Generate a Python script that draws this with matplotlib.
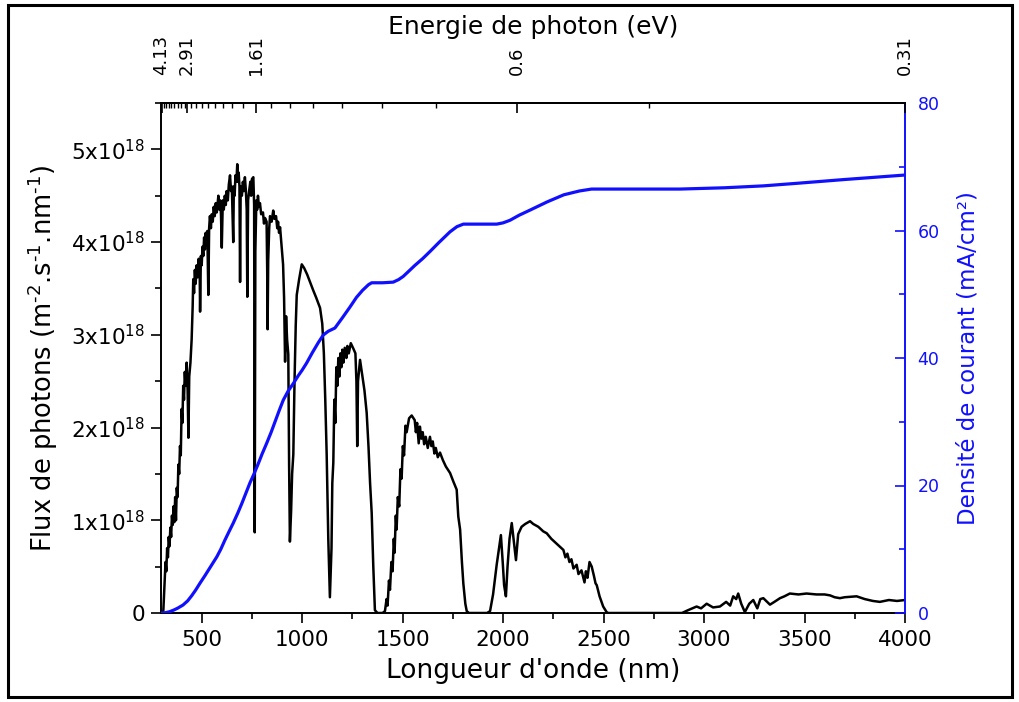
import numpy as np
import matplotlib
matplotlib.use("Agg")
import matplotlib.pyplot as plt
from matplotlib.patches import Rectangle
from matplotlib.ticker import FixedLocator, FixedFormatter, MultipleLocator

plt.rcParams['font.family'] = ['DejaVu Sans']
plt.rcParams['mathtext.fontset'] = 'dejavusans'

# photon flux spectrum, per band (x1e18 m-2 s-1 nm-1)
vis_wl = [300, 309, 316, 320, 324, 328, 332, 336, 340, 344, 348, 352, 356, 360, 364, 368, 372, 376,
          380, 384, 388, 392, 396, 400, 404, 408, 412, 416, 420, 425, 430, 434, 438, 444, 450, 455,
          458, 462, 466, 470, 475, 480, 485, 490, 492, 496, 500, 504, 508, 512, 516, 520, 524, 528,
          533, 537, 541, 546, 550, 555, 560, 565, 570, 575, 583, 588, 592, 596, 600, 605, 610, 615,
          620, 624, 630, 635, 641, 646, 650, 657, 660, 664, 668, 673, 677, 681, 684, 688, 691, 694,
          700, 705, 710, 715, 720, 724, 727, 731, 736, 742, 746, 750, 757, 761, 764, 767, 772, 776,
          780, 785, 790, 796, 805, 810, 815, 823, 826, 828, 831, 836, 840, 848, 856, 862, 870, 876,
          880, 885, 890, 898, 905, 910, 915, 920, 925, 931, 935, 939, 945, 950, 956, 962, 968, 973,
          985, 998]
vis_flux = [0.0, 0.02, 0.35, 0.55, 0.45, 0.70, 0.60, 0.82, 0.72, 0.92, 0.82, 1.05, 0.95, 1.15, 0.98,
            1.25, 1.00, 1.35, 1.25, 1.60, 1.50, 1.80, 1.70, 2.20, 2.05, 2.45, 2.30, 2.60, 2.45, 2.70,
            2.40, 1.89, 2.55, 2.70, 2.95, 3.30, 3.60, 3.45, 3.70, 3.55, 3.75, 3.62, 3.82, 3.70, 3.25,
            3.85, 3.75, 3.95, 3.85, 4.05, 3.92, 4.10, 3.98, 4.12, 3.43, 4.15, 4.28, 4.15, 4.30, 4.22,
            4.38, 4.28, 4.42, 4.32, 4.50, 4.35, 4.45, 4.30, 3.94, 4.45, 4.35, 4.50, 4.40, 4.55, 4.45,
            4.62, 4.72, 4.55, 4.60, 4.00, 4.60, 4.50, 4.72, 4.65, 4.84, 4.65, 4.75, 4.60, 3.57, 4.60,
            4.50, 4.65, 4.55, 4.70, 4.55, 4.35, 3.41, 4.45, 4.55, 4.65, 4.50, 4.68, 4.70, 4.40, 0.87,
            3.90, 4.45, 4.35, 4.50, 4.38, 4.42, 4.30, 4.32, 4.20, 4.26, 4.22, 3.70, 3.06, 3.80, 4.15,
            4.28, 4.22, 4.34, 4.25, 4.28, 4.15, 4.22, 4.10, 4.16, 3.95, 3.76, 3.40, 2.71, 3.20, 2.95,
            2.79, 1.60, 0.77, 1.10, 1.50, 1.71, 2.50, 3.10, 3.43, 3.60, 3.76]

nir1_wl = [1010, 1025, 1039, 1055, 1070, 1089, 1100, 1108, 1115, 1122, 1130, 1138, 1146, 1150, 1155,
           1160, 1165, 1170, 1175, 1180, 1185, 1190, 1195, 1200, 1205, 1212, 1220, 1225, 1232, 1242,
           1255, 1265, 1270, 1274, 1278, 1288, 1300, 1310, 1321, 1330, 1338, 1346, 1354, 1362, 1375,
           1400]
nir1_flux = [3.72, 3.65, 3.57, 3.48, 3.40, 3.29, 3.12, 2.80, 2.30, 1.71, 0.80, 0.17, 0.70, 1.40, 1.62,
             2.30, 2.05, 2.65, 2.45, 2.75, 2.55, 2.80, 2.65, 2.84, 2.70, 2.86, 2.75, 2.88, 2.80, 2.91,
             2.85, 2.80, 2.50, 1.80, 2.50, 2.73, 2.55, 2.40, 2.16, 1.80, 1.40, 1.08, 0.50, 0.03, 0.0,
             0.0]

nir2_wl = [1412, 1420, 1425, 1432, 1437, 1444, 1450, 1456, 1460, 1466, 1470, 1476, 1483, 1489, 1495,
           1501, 1507, 1514, 1520, 1532, 1545, 1560, 1566, 1572, 1580, 1586, 1593, 1600, 1607, 1615,
           1625, 1636, 1643, 1650, 1658, 1665, 1675, 1686, 1700, 1715, 1736, 1752, 1769, 1777, 1786,
           1795, 1802, 1812, 1819, 1830, 1920]
nir2_flux = [0.02, 0.15, 0.08, 0.35, 0.25, 0.55, 0.45, 0.80, 0.65, 1.05, 0.90, 1.25, 1.15, 1.55, 1.45,
             1.80, 1.70, 2.02, 1.95, 2.10, 2.13, 2.08, 1.95, 2.05, 1.83, 2.01, 1.88, 1.95, 1.82, 1.90,
             1.78, 1.90, 1.80, 1.85, 1.72, 1.78, 1.68, 1.73, 1.65, 1.58, 1.51, 1.42, 1.33, 1.04, 0.90,
             0.55, 0.32, 0.10, 0.02, 0.0, 0.0]

ir_wl = [1935, 1950, 1968, 1980, 1989, 1998, 2005, 2014, 2022, 2032, 2043, 2052, 2064, 2075, 2092,
         2110, 2134, 2150, 2175, 2200, 2217, 2240, 2260, 2280, 2300, 2310, 2320, 2330, 2340, 2350,
         2366, 2375, 2390, 2405, 2412, 2420, 2430, 2441, 2452, 2460, 2466, 2480, 2498, 2515, 2523,
         2890]
ir_flux = [0.02, 0.20, 0.52, 0.70, 0.84, 0.55, 0.30, 0.18, 0.50, 0.80, 0.97, 0.80, 0.57, 0.85, 0.93,
           0.96, 0.99, 0.96, 0.93, 0.88, 0.86, 0.80, 0.76, 0.72, 0.68, 0.60, 0.64, 0.55, 0.58, 0.48,
           0.52, 0.42, 0.46, 0.33, 0.45, 0.38, 0.55, 0.50, 0.40, 0.32, 0.30, 0.18, 0.07, 0.01, 0.0,
           0.0]

mir_wl = [2920, 2963, 2985, 3013, 3045, 3079, 3110, 3130, 3145, 3160, 3170, 3185, 3203, 3225, 3245,
          3265, 3280, 3295, 3328, 3350, 3378, 3400, 3427, 3470, 3510, 3560, 3600, 3627, 3650, 3676,
          3700, 3759, 3800, 3840, 3875, 3920, 3960, 4000]
mir_flux = [0.03, 0.07, 0.05, 0.10, 0.06, 0.07, 0.12, 0.08, 0.18, 0.15, 0.21, 0.10, 0.01, 0.10, 0.14,
            0.05, 0.15, 0.16, 0.09, 0.12, 0.16, 0.18, 0.21, 0.20, 0.21, 0.20, 0.20, 0.19, 0.17, 0.16,
            0.17, 0.18, 0.15, 0.13, 0.12, 0.14, 0.13, 0.14]

# cumulated current density (mA/cm2)
wl_j = [300, 320, 340, 360, 380, 407, 430, 450, 470, 492, 515, 535, 555, 575, 595, 615, 635, 657,
        680, 700, 720, 740, 760, 780, 800, 823, 845, 865, 885, 906, 930, 956, 980, 1000, 1022, 1050,
        1080, 1105, 1130, 1163, 1200, 1238, 1270, 1300, 1330, 1346, 1400, 1453, 1480, 1503, 1530,
        1560, 1600, 1636, 1680, 1736, 1770, 1802, 1900, 1968, 2000, 2034, 2080, 2134, 2220, 2302,
        2380, 2440, 2500, 2880, 3100, 3295, 3461, 3700, 4000]
jsc = [0.0, 0.05, 0.2, 0.45, 0.75, 1.25, 1.9, 2.7, 3.6, 4.7, 5.8, 6.8, 7.8, 8.8, 10.0, 11.4, 12.7,
       14.1, 15.7, 17.2, 18.8, 20.4, 21.8, 23.3, 24.9, 26.6, 28.3, 30.0, 31.7, 33.4, 34.8, 36.0, 37.2,
       38.1, 39.2, 40.8, 42.4, 43.6, 44.2, 44.7, 46.3, 48.0, 49.5, 50.6, 51.5, 51.8, 51.8, 51.9, 52.3,
       52.8, 53.6, 54.5, 55.6, 56.7, 58.1, 59.8, 60.6, 61.0, 61.0, 61.0, 61.2, 61.6, 62.4, 63.2, 64.5,
       65.6, 66.2, 66.5, 66.5, 66.5, 66.7, 67.0, 67.4, 68.0, 68.7]

# top axis (photon energy)
e_major = [4.13, 2.91, 1.61, 0.6, 0.31]
e_major_lbl = ['4.13', '2.91', '1.61', '0.6', '0.31']
e_minor = [3.986, 3.841, 3.697, 3.553, 3.409, 3.264, 3.120, 2.976,
           2.766, 2.621, 2.477, 2.332, 2.188, 2.043, 1.899, 1.754,
           1.466, 1.321, 1.177, 1.033, 0.889, 0.744, 0.455]

y_ticks = [0, 1e18, 2e18, 3e18, 4e18, 5e18]
y_lbls = ['0', r'1x10$^{18}$', r'2x10$^{18}$', r'3x10$^{18}$', r'4x10$^{18}$', r'5x10$^{18}$']

blue = '#1010ff'

wl = vis_wl + nir1_wl + nir2_wl + ir_wl + mir_wl
flux = np.array(vis_flux + nir1_flux + nir2_flux + ir_flux + mir_flux) * 1e18

fig = plt.figure(figsize=(10.2, 7.02), dpi=100)
ax = fig.add_axes([161.5 / 1020, 1 - 613 / 702, (905 - 161.5) / 1020, (613 - 103) / 702])

ax.plot(wl, flux, color='black', lw=1.8)
ax.set_xlim(300, 4000)
ax.set_ylim(0, 5.5e18)
ax.xaxis.set_major_locator(MultipleLocator(500))
ax.xaxis.set_minor_locator(MultipleLocator(250))
ax.yaxis.set_major_locator(FixedLocator(y_ticks))
ax.yaxis.set_major_formatter(FixedFormatter(y_lbls))
ax.yaxis.set_minor_locator(MultipleLocator(0.5e18))
ax.tick_params(which='major', direction='out', length=7, width=1.2, labelsize=15.5, pad=5)
ax.tick_params(which='minor', direction='out', length=4.5, width=1.2)
ax.tick_params(top=False, right=False, which='both')
ax.set_xlabel("Longueur d'onde (nm)", fontsize=19, labelpad=6)
ax.set_ylabel('Flux de photons (m$^{\u20102}$.s$^{\u20101}$.nm$^{\u20101}$)', fontsize=18.5, labelpad=8)
ax.spines['right'].set_visible(False)
for s in ['left', 'bottom', 'top']:
    ax.spines[s].set_linewidth(1.4)

ax2 = ax.twinx()
ax2.plot(wl_j, jsc, color=blue, lw=2.3)
ax2.set_ylim(0, 80)
ax2.yaxis.set_major_locator(MultipleLocator(20))
ax2.yaxis.set_minor_locator(MultipleLocator(10))
ax2.tick_params(axis='y', which='major', direction='in', length=7, width=1.2, colors=blue,
                labelsize=12.5, pad=9)
ax2.tick_params(axis='y', which='minor', direction='in', length=4.5, width=1.2, colors=blue)
ax2.set_ylabel('Densité de courant (mA/cm²)', fontsize=16.5, color=blue, labelpad=12)
ax2.spines['right'].set_color(blue)
ax2.spines['right'].set_linewidth(1.4)
for s in ['left', 'bottom', 'top']:
    ax2.spines[s].set_visible(False)

ax3 = ax.twiny()
ax3.set_xlim(300, 4000)
ax3.xaxis.set_major_locator(FixedLocator([1240 / e for e in e_major]))
ax3.xaxis.set_major_formatter(FixedFormatter(e_major_lbl))
ax3.xaxis.set_minor_locator(FixedLocator([1240 / e for e in e_minor]))
ax3.tick_params(axis='x', which='major', direction='in', length=7, width=1.2,
                labelsize=13, labelrotation=90, pad=20)
ax3.tick_params(axis='x', which='minor', direction='in', length=3.5, width=1.0)
ax3.set_xlabel('Energie de photon (eV)', fontsize=18, labelpad=1)
ax3.spines['right'].set_visible(False)
ax3.spines['left'].set_visible(False)
ax3.spines['bottom'].set_visible(False)
ax3.spines['top'].set_linewidth(1.4)

fig.patches.append(Rectangle((8 / 1020, 5 / 702), 1004 / 1020, 692 / 702, transform=fig.transFigure,
                             fill=False, edgecolor='black', lw=2.2))

fig.savefig('out.png', dpi=100)
